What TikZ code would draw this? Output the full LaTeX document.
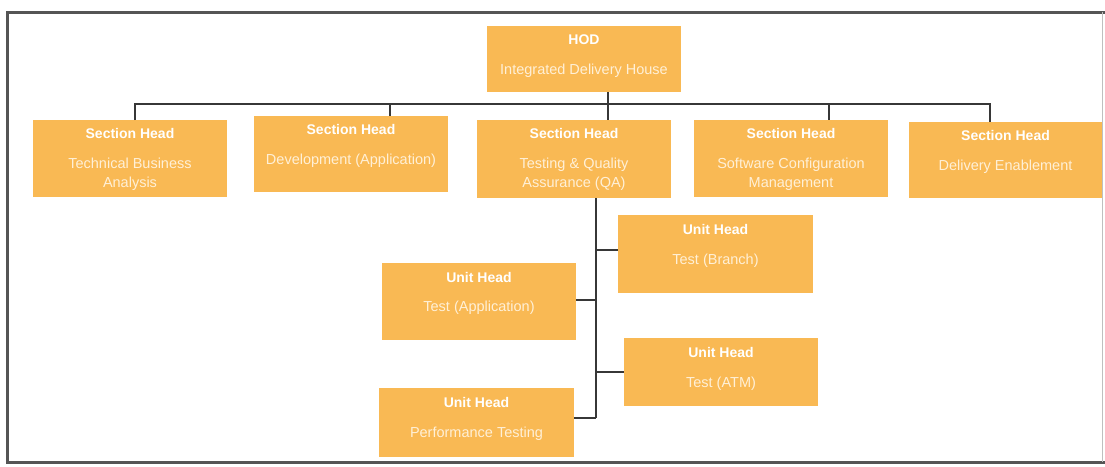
\documentclass[tikz,border=0pt]{standalone}
\usepackage{fontspec}
\setmainfont{Liberation Sans}
\definecolor{boxc}{RGB}{249,185,84}
\definecolor{bodytxt}{RGB}{255,240,215}
\definecolor{linec}{RGB}{55,55,55}
\definecolor{framec}{RGB}{85,85,85}
\newcommand{\bxt}[6]{\parbox[t][#2pt][t]{#1pt}{\centering\fontsize{14}{18.5}\selectfont\vspace*{#3pt}{\color{white}\textbf{#4}}\par\vspace{#5pt}{\fontsize{14.5}{18.5}\selectfont\color{bodytxt}#6\par}}}
\tikzset{
  box/.style={fill=boxc, draw=none, inner sep=0pt, outer sep=0pt, anchor=north west},
  conn/.style={draw=linec, line width=1.6pt},
  frame/.style={draw=framec, line width=3pt}
}
\begin{document}
\begin{tikzpicture}[x=1pt,y=-1pt]
\useasboundingbox (0,0) rectangle (1105,466);
\draw[frame] (1105,12) -- (7,12) -- (7,462) -- (1105,462);
\draw[draw=black!25, line width=0.8pt] (1102,12) -- (1102,462);
% HOD
\node[box] (hod) at (487,26) {\bxt{194}{66}{9}{HOD}{11}{Integrated Delivery House}};
% sections
\node[box] (s1) at (33,120) {\bxt{194}{77}{8}{Section Head}{12}{Technical Business\\Analysis}};
\node[box] (s2) at (254,116) {\bxt{194}{76}{8}{Section Head}{12}{Development (Application)}};
\node[box] (s3) at (477,120) {\bxt{194}{78}{8}{Section Head}{12}{Testing \& Quality\\Assurance (QA)}};
\node[box] (s4) at (694,120) {\bxt{194}{77}{8}{Section Head}{12}{Software Configuration\\Management}};
\node[box] (s5) at (909,122) {\bxt{193}{76}{8}{Section Head}{12}{Delivery Enablement}};
% units
\node[box] (u1) at (618,215) {\bxt{195}{78}{9}{Unit Head}{12}{Test (Branch)}};
\node[box] (u2) at (382,263) {\bxt{194}{77}{9}{Unit Head}{11}{Test (Application)}};
\node[box] (u3) at (624,338) {\bxt{194}{68}{9}{Unit Head}{12}{Test (ATM)}};
\node[box] (u4) at (379,388) {\bxt{195}{69}{9}{Unit Head}{12}{Performance Testing}};
% bus
\coordinate (busL) at (135,104);
\coordinate (busR) at (990,104);
\draw[conn] (busL |- s1.north) -- (busL) -- (busR) -- (busR |- s5.north);
\draw[conn] (hod.south -| 608,0) -- (608,104);
\draw[conn] (390,104) -- (390,0 |- s2.north);
\draw[conn] (608,104) -- (608,0 |- s3.north);
\draw[conn] (829,104) -- (829,0 |- s4.north);
% unit tree
\coordinate (vt) at (596,0 |- s3.south);
\coordinate (vb) at (596,418);
\draw[conn] (vt) -- (vb);
\draw[conn] (596,250) -- (u1.west |- 0,250);
\draw[conn] (596,300) -- (u2.east |- 0,300);
\draw[conn] (596,372) -- (u3.west |- 0,372);
\draw[conn] (vb) -- (u4.east |- vb);
\end{tikzpicture}
\end{document}
